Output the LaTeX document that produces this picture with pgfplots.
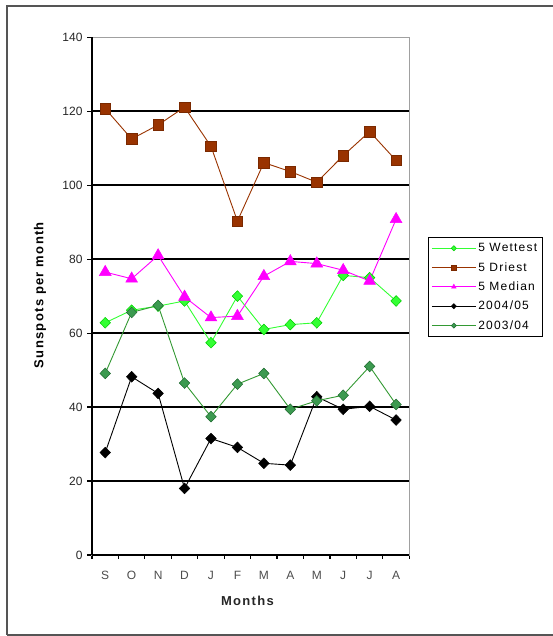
\documentclass[border=0pt]{standalone}
\usepackage{fontspec}
\setmainfont{Liberation Sans}
\newfontfamily\spacedfont[LetterSpace=10]{Liberation Sans}
\usepackage{pgfplots}
\usepackage{pgfplotstable}
\pgfplotsset{compat=1.18}

\definecolor{wetline}{HTML}{33FF33}
\definecolor{wetedge}{HTML}{00CC00}
\definecolor{dryline}{HTML}{993300}
\definecolor{medline}{HTML}{FF00FF}
\definecolor{oldline}{HTML}{339933}
\definecolor{oldfill}{HTML}{3C9A50}
\definecolor{oldedge}{HTML}{1F6A30}
\definecolor{framegray}{HTML}{555555}
\definecolor{boxgray}{HTML}{A0A0A0}

% Monthly mean sunspot numbers, September to August
\pgfplotstableread{
x  dry    wet   med   yb    ya
0  120.7  62.8  76.5  27.7  49.1
1  112.5  66.2  74.7  48.2  65.6
2  116.3  67.3  81.0  43.7  67.5
3  121.1  68.7  69.8  18.0  46.5
4  110.5  57.4  64.2  31.5  37.4
5  90.3   70.0  64.6  29.1  46.2
6  106.1  61.0  75.4  24.8  49.1
7  103.7  62.3  79.4  24.3  39.4
8  100.8  62.8  78.8  42.8  41.7
9  108.0  75.6  77.0  39.4  43.2
10 114.5  75.0  74.1  40.2  51.0
11 106.7  68.7  90.8  36.5  40.7
}\sunspots

\begin{document}
\begin{tikzpicture}[x=1pt,y=1pt]
\useasboundingbox (0,0) rectangle (553,636);
% outer chart frame
\draw[framegray, line width=1.4pt] (7,1) -- (7,630) -- (556,630);
\draw[framegray, line width=1.4pt] (7,1) -- (556,1);

\begin{axis}[
  at={(92pt,81pt)}, anchor=south west,
  scale only axis,
  width=317.3pt, height=517.7pt,
  xmin=-0.5, xmax=11.5,
  ymin=0, ymax=140,
  xtick={0,...,11},
  xticklabels={S,O,N,D,J,F,M,A,M,J,J,A},
  minor xtick={-0.5,0.5,...,11.5},
  ytick={0,20,...,140},
  xtick pos=bottom, ytick pos=left,
  tick align=outside,
  major tick length=5pt,
  minor tick length=4pt,
  x tick style={draw=none},
  minor x tick style={draw=black, line width=1.2pt},
  y tick style={black, line width=1.2pt},
  ymajorgrids,
  grid style={black, line width=1.5pt},
  axis line style={boxgray, line width=1.3pt},
  /pgf/number format/assume math mode=true,
  yticklabel style={font=\fontsize{12}{12}\selectfont, text=black!85, xshift=-1pt},
  xticklabel style={font=\fontsize{12}{12}\selectfont, text=black!70, yshift=-8pt},
  ylabel={\spacedfont\bfseries Sunspots per month},
  ylabel style={at={(rel axis cs:-0.164,0.502)}, anchor=center, font=\fontsize{13}{13}\selectfont},
  xlabel={\spacedfont\bfseries Months},
  xlabel style={at={(rel axis cs:0.49,-0.089)}, anchor=center, font=\fontsize{13}{13}\selectfont, text=black!85},
  clip=false,
  legend style={at={(rel axis cs:1.0589,0.6143)}, anchor=north west,
    draw=black, line width=0.8pt, fill=white,
    font=\fontsize{12}{14}\selectfont, row sep=5.2pt,
    inner xsep=3pt, inner ysep=4pt},
  legend cell align=left,
  legend image code/.code={%
    \draw[mark repeat=2, mark phase=2, #1] plot coordinates {(0pt,0pt) (22pt,0pt) (44pt,0pt)};},
  legend image post style={mark size=2.6pt},
]
\addplot[wetline, line width=0.9pt, mark=diamond*, mark size=5.4pt,
  mark options={xscale=1.3, fill=wetline, draw=wetedge, line width=0.5pt}]
  table[x=x, y=wet] {\sunspots};
\addlegendentry{\spacedfont 5 Wettest}
\addplot[dryline, line width=0.9pt, mark=square*, mark size=5.3pt,
  mark options={fill=dryline, draw=dryline!80!black, line width=0.5pt}]
  table[x=x, y=dry] {\sunspots};
\addlegendentry{\spacedfont 5 Driest}
\addplot[medline, line width=0.9pt, mark=triangle*, mark size=6.8pt,
  mark options={fill=medline, draw=medline, line width=0.5pt}]
  table[x=x, y=med] {\sunspots};
\addlegendentry{\spacedfont 5 Median}
\addplot[black, line width=0.9pt, mark=diamond*, mark size=5.4pt,
  mark options={xscale=1.3, fill=black, draw=black, line width=0.5pt}]
  table[x=x, y=yb] {\sunspots};
\addlegendentry{\spacedfont 2004/05}
\addplot[oldline, line width=0.9pt, mark=diamond*, mark size=5.4pt,
  mark options={xscale=1.3, fill=oldfill, draw=oldedge, line width=0.5pt}]
  table[x=x, y=ya] {\sunspots};
\addlegendentry{\spacedfont 2003/04}
% left and bottom axis lines in black over the grey plot-area border
\draw[black, line width=1.3pt] (rel axis cs:0,0) -- (rel axis cs:0,1);
\draw[black, line width=1.3pt] (rel axis cs:0,0) -- (rel axis cs:1,0);
\end{axis}
\end{tikzpicture}
\end{document}
